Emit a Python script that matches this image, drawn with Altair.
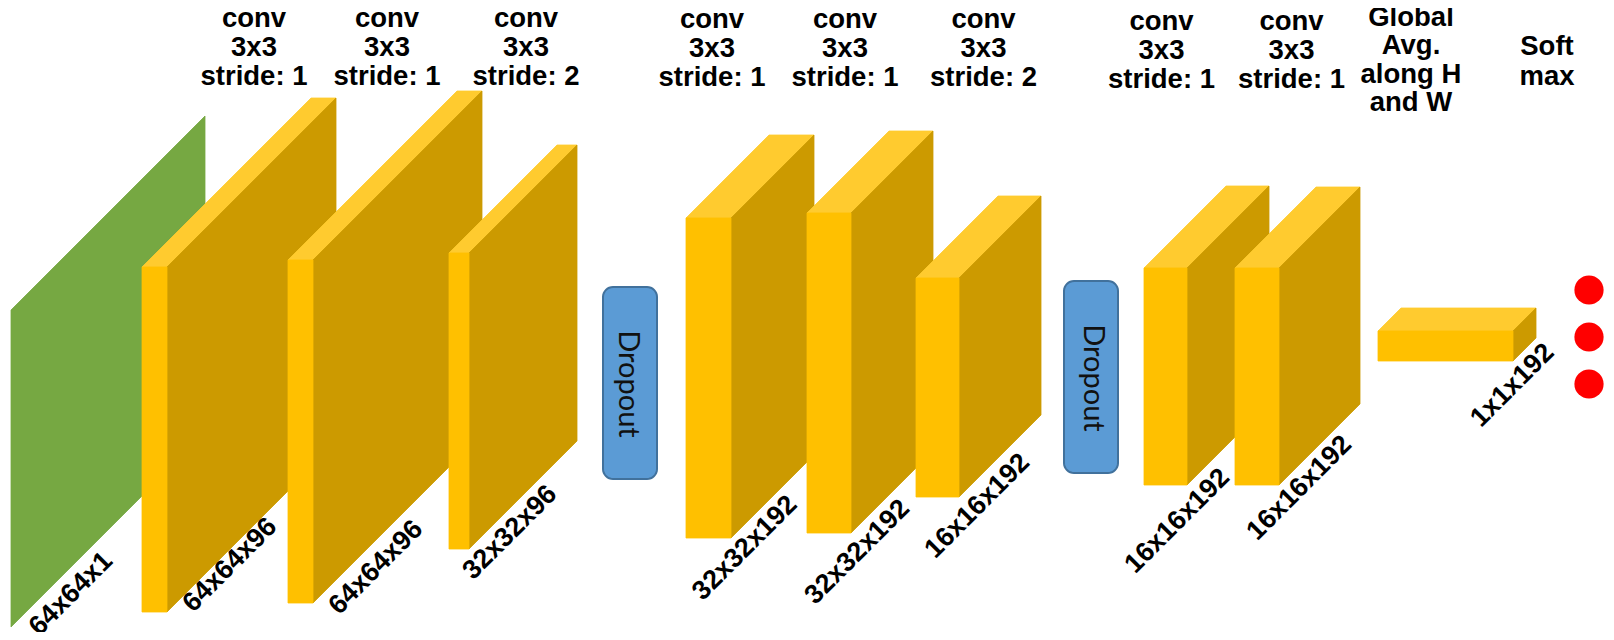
import math
import altair as alt
import pandas as pd

# ---------------- data (reference pixel space, y downwards) ----------------
# Input plane (green)
input_x = [11, 205]              # left / right edge
input_left_y = [310, 627]        # top / bottom of left edge
input_depth = 194                # 45 degree rise

# Feature-map blocks: front face left, front width, top, bottom, depth
box_left = [142, 288, 449, 686, 807, 916, 1144, 1235, 1378]
box_width = [25, 25, 20, 45, 44, 43, 43, 44, 135]
box_top = [267, 260, 253, 218, 213, 278, 268, 268, 331]
box_bottom = [612, 603, 549, 538, 533, 497, 485, 485, 361]
box_depth = [169, 169, 108, 83, 82, 82, 82, 81, 23]

# Dropout blocks: x0, x1, y0, y1
drop_x0 = [603, 1064]
drop_x1 = [657, 1118]
drop_y0 = [287, 281]
drop_y1 = [479, 473]
drop_text_x = [628, 1093]
drop_text_y = [384, 378]

# Softmax outputs
soft_x = [1589, 1589, 1589]
soft_y = [290, 337, 384]

# Top labels
top_x = [254, 387, 526, 712, 845, 983.5, 1161.5, 1291.5, 1411, 1547]
top_y0 = [27, 27, 27, 28, 28, 28, 30, 30, 26, 55]
top_step = [29, 29, 29, 29, 29, 29, 29, 29, 28.3, 30]
top_lines = [
    ["conv", "3x3", "stride: 1"],
    ["conv", "3x3", "stride: 1"],
    ["conv", "3x3", "stride: 2"],
    ["conv", "3x3", "stride: 1"],
    ["conv", "3x3", "stride: 1"],
    ["conv", "3x3", "stride: 2"],
    ["conv", "3x3", "stride: 1"],
    ["conv", "3x3", "stride: 1"],
    ["Global", "Avg.", "along H", "and W"],
    ["Soft", "max"],
]

# Shape labels (rotated)
dim_labels = ["64x64x1", "64x64x96", "64x64x96", "32x32x96", "32x32x192",
              "32x32x192", "16x16x192", "16x16x192", "16x16x192", "1x1x192"]
dim_x = [71, 230, 376, 510, 745, 857.5, 977.5, 1177.5, 1299.5, 1512.5]
dim_y = [594, 565, 567.5, 532.5, 548, 552, 506, 521, 488, 385.5]

# colours
GREEN = "#76A842"
FRONT = "#FFC000"
TOP = "#FFCB2F"
SIDE = "#CC9A00"
BLUE = "#5B9BD5"
BLUE_EDGE = "#41719C"

# ---------------- geometry helpers ----------------
def poly(coords, fill, stroke=None, sw=0.8):
    ring = [list(map(float, c)) for c in coords] + [list(map(float, coords[0]))]
    return {"type": "Feature",
            "geometry": {"type": "Polygon", "coordinates": [ring]},
            "properties": {"fill": fill, "stroke": stroke or fill, "sw": sw}}


def rounded_rect(x0, y0, x1, y1, r, n=8):
    pts = []
    corners = [(x1 - r, y0 + r, -90, 0), (x1 - r, y1 - r, 0, 90),
               (x0 + r, y1 - r, 90, 180), (x0 + r, y0 + r, 180, 270)]
    for cx, cy, a0, a1 in corners:
        for i in range(n + 1):
            a = math.radians(a0 + (a1 - a0) * i / n)
            pts.append([cx + r * math.cos(a), cy + r * math.sin(a)])
    return pts


features = []
# frame of the visible page area (inside the 8px page margin) -> fixes the identity projection fit
features.append(poly([[8, 8], [1606, 8], [1606, 632], [8, 632]], "#ffffff", "#ffffff", 0))

# input plane
xl, xr = input_x
yt, yb = input_left_y
features.append(poly([[xl, yt], [xr, yt - input_depth], [xr, yb - input_depth], [xl, yb]], GREEN))

# feature-map blocks, faces
def add_box(l, w, t, b, d):
    r = l + w
    features.append(poly([[l, t], [r, t], [r + d, t - d], [l + d, t - d]], TOP))
    features.append(poly([[r, t], [r + d, t - d], [r + d, b - d], [r, b]], SIDE))
    features.append(poly([[l, t], [r, t], [r, b], [l, b]], FRONT))

for i in range(len(box_left)):
    add_box(box_left[i], box_width[i], box_top[i], box_bottom[i], box_depth[i])

for i in range(len(drop_x0)):
    features.append(poly(rounded_rect(drop_x0[i], drop_y0[i], drop_x1[i], drop_y1[i], 10),
                         BLUE, BLUE_EDGE, 2))

proj = dict(type="identity")

shapes = alt.Chart(alt.Data(values=features)).mark_geoshape().encode(
    fill=alt.Color("properties.fill:N", scale=None),
    stroke=alt.Color("properties.stroke:N", scale=None),
    strokeWidth=alt.StrokeWidth("properties.sw:Q", scale=None),
).project(**proj)

# softmax dots
soft_df = pd.DataFrame({"x": soft_x, "y": soft_y})
dots = alt.Chart(soft_df).mark_circle(size=855, color="#FF0000", opacity=1).encode(
    longitude="x:Q", latitude="y:Q"
).project(**proj)

# top labels
rows = []
for cx, y0, st, lines in zip(top_x, top_y0, top_step, top_lines):
    for k, t in enumerate(lines):
        rows.append({"x": cx, "y": y0 + k * st, "t": t})
top_df = pd.DataFrame(rows)
top_text = alt.Chart(top_df).mark_text(
    font="Liberation Sans", fontWeight="bold", fontSize=27.5, color="#000000",
    align="center", baseline="alphabetic"
).encode(longitude="x:Q", latitude="y:Q", text="t:N").project(**proj)

# rotated dimension labels
dim_df = pd.DataFrame({"x": dim_x, "y": dim_y, "t": dim_labels})
dim_text = alt.Chart(dim_df).mark_text(
    font="Liberation Sans", fontWeight="bold", fontSize=27, color="#000000",
    align="center", baseline="middle", angle=315
).encode(longitude="x:Q", latitude="y:Q", text="t:N").project(**proj)

# dropout text
drop_df = pd.DataFrame({"x": drop_text_x, "y": drop_text_y, "t": ["Dropout", "Dropout"]})
drop_text = alt.Chart(drop_df).mark_text(
    font="Lato", fontSize=29, color="#111111",
    align="center", baseline="middle", angle=90
).encode(longitude="x:Q", latitude="y:Q", text="t:N").project(**proj)

chart = alt.layer(shapes, dots, top_text, dim_text, drop_text).properties(
    width=1598, height=624, padding=0,
    autosize=alt.AutoSizeParams(type="none")
).configure_view(strokeWidth=0)

chart.save("out.html", embed_options={"renderer": "svg", "actions": False})
